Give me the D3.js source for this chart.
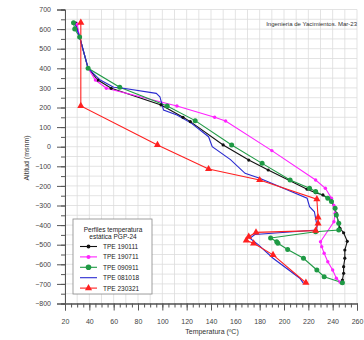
<!DOCTYPE html>
<html>
<head>
<meta charset="utf-8">
<script src="https://cdn.jsdelivr.net/npm/d3@7"></script>
<style>
  body { margin: 0; background: #fff; }
  text { font-family: "Liberation Sans", Arial, sans-serif; }
</style>
</head>
<body>
<div id="chart"></div>
<script>
// [temperature degC, altitude msnm]
const tpe190111 = [[29, 630], [32, 560], [39, 400], [47, 340], [58, 298], [99, 213], [117, 150], [123, 128],
  [150, 9], [171, -68], [187, -119], [219, -217], [226, -235], [232, -246], [236, -263], [239, -276],
  [243, -340], [246, -416], [249, -439], [252, -483], [250, -527], [250, -569], [249, -612], [249, -646],
  [248, -680], [247, -694]];
const tpe190711 = [[30, 625], [32, 560], [39, 400], [45, 340], [54, 298], [112, 208], [143, 150], [152, 131],
  [190, -20], [226, -170], [234, -212], [239, -263], [241, -300], [242, -340], [241, -383],
  [230, -485], [231, -510], [233, -544], [236, -587], [240, -629], [243, -671], [246, -690]];
const tpe090911 = [[27, 632], [28, 600], [32, 560], [39, 400], [65, 303], [104, 208], [127, 133], [157, 9],
  [182, -85], [205, -170], [221, -212], [226, -228], [236, -263], [239, -280], [242, -314], [243, -348],
  [245, -391], [245, -425], [226, -434], [189, -466], [194, -485], [195, -493], [203, -524], [216, -569],
  [227, -629], [233, -663], [248, -694]];
const tpe081018 = [[28, 630], [32, 561], [39, 400], [49, 340], [60, 303], [68, 298], [95, 272], [98, 255],
  [99.5, 221], [101, 187], [112, 162], [124, 119], [138, 51], [141, 0], [156, -66], [168, -136], [180, -161],
  [219, -263], [221, -306], [225, -332], [227, -400], [227, -425], [176, -448], [172, -467], [179, -501],
  [191, -569], [213, -671], [216, -697]];
const tpe230321 = [[33, 633], [33, 208], [96, 9], [138, -114], [180, -170], [227, -268], [228, -361],
  [228, -391], [226, -428], [177, -437], [171, -459], [169, -478], [175, -493], [191, -552], [218, -694]];

const seriesNames = ['TPE 190111', 'TPE 190711', 'TPE 090911', 'TPE 081018', 'TPE 230321'];
const xTicks = d3.range(20, 261, 20);
const yTicks = d3.range(-800, 701, 100);

const series = [
  { name: seriesNames[0], data: tpe190111, color: '#111111', marker: 'circle', r: 1.6 },
  { name: seriesNames[1], data: tpe190711, color: '#ff22ff', marker: 'circle', r: 1.7 },
  { name: seriesNames[2], data: tpe090911, color: '#1f9a45', marker: 'circle', r: 2.5 },
  { name: seriesNames[3], data: tpe081018, color: '#2a2ad0', marker: 'none', r: 0 },
  { name: seriesNames[4], data: tpe230321, color: '#ff2020', marker: 'triangle', r: 0 }
];

const W = 364, H = 340;
const margin = { top: 9.5, right: 7, bottom: 36.5, left: 65 };
const width = W - margin.left - margin.right;
const height = H - margin.top - margin.bottom;

const svg = d3.select('#chart').append('svg').attr('width', W).attr('height', H);
const g = svg.append('g').attr('transform', `translate(${margin.left},${margin.top})`);

const x = d3.scaleLinear().domain([20, 260]).range([0, width]);
const y = d3.scaleLinear().domain([-800, 700]).range([height, 0]);

// grid
g.append('g').selectAll('line').data(d3.range(20, 261, 10)).join('line')
  .attr('x1', d => x(d)).attr('x2', d => x(d)).attr('y1', 0).attr('y2', height)
  .attr('stroke', '#dcdcdc').attr('stroke-width', 0.8);
g.append('g').selectAll('line').data(d3.range(-800, 701, 50)).join('line')
  .attr('y1', d => y(d)).attr('y2', d => y(d)).attr('x1', 0).attr('x2', width)
  .attr('stroke', '#dcdcdc').attr('stroke-width', 0.8);

// axes
const xMinor = g.append('g').attr('transform', `translate(0,${height})`)
  .call(d3.axisBottom(x).tickValues(d3.range(20, 261, 5)).tickSize(4).tickFormat(''));
const xAxis = g.append('g').attr('transform', `translate(0,${height})`)
  .call(d3.axisBottom(x).tickValues(xTicks).tickSize(7).tickPadding(9).tickFormat(d3.format('d')));
const yMinor = g.append('g')
  .call(d3.axisLeft(y).tickValues(d3.range(-800, 701, 50)).tickSize(4).tickFormat(''));
const yAxis = g.append('g')
  .call(d3.axisLeft(y).tickValues(yTicks).tickSize(8).tickPadding(6).tickFormat(d3.format('d')));
[xMinor, xAxis, yMinor, yAxis].forEach(a => {
  a.selectAll('.domain').attr('stroke', '#555').attr('stroke-width', 1);
  a.selectAll('line').attr('stroke', '#555');
  a.selectAll('text').attr('fill', '#444').style('font-size', '7px');
});

// lines
const line = d3.line().x(d => x(d[0])).y(d => y(d[1]));
series.forEach(s => {
  g.append('path').datum(s.data)
    .attr('fill', 'none').attr('stroke', s.color).attr('stroke-width', 1.1).attr('d', line);
});
const tri = d3.symbol().type(d3.symbolTriangle).size(22);
series.forEach(s => {
  if (s.marker === 'circle') {
    g.append('g').selectAll('circle').data(s.data).join('circle')
      .attr('cx', d => x(d[0])).attr('cy', d => y(d[1])).attr('r', s.r).attr('fill', s.color);
  } else if (s.marker === 'triangle') {
    g.append('g').selectAll('path').data(s.data).join('path')
      .attr('transform', d => `translate(${x(d[0])},${y(d[1])})`).attr('d', tri).attr('fill', s.color);
  }
});

// axis titles
svg.append('text').attr('x', 212).attr('y', 334).attr('text-anchor', 'middle')
  .attr('fill', '#333').style('font-size', '7px').text('Temperatura (ºC)');
svg.append('text').attr('transform', 'translate(29,158) rotate(-90)').attr('text-anchor', 'middle')
  .attr('fill', '#333').style('font-size', '7px').text('Altitud (msnm)');
svg.append('text').attr('x', 357).attr('y', 26).attr('text-anchor', 'end')
  .attr('fill', '#333').style('font-size', '6px').text('Ingenieria de Yacimientos. Mar-23');

// legend
const lg = svg.append('g').attr('transform', 'translate(73,219)');
lg.append('rect').attr('width', 79).attr('height', 75).attr('fill', '#fff')
  .attr('stroke', '#888').attr('stroke-width', 0.8);
lg.append('text').attr('x', 40).attr('y', 12.5).attr('text-anchor', 'middle')
  .attr('fill', '#222').style('font-size', '6.5px').text('Perfiles temperatura');
lg.append('text').attr('x', 40).attr('y', 19.5).attr('text-anchor', 'middle')
  .attr('fill', '#222').style('font-size', '6.5px').text('estática PGP-24');
series.forEach((s, i) => {
  const ly = 27.5 + i * 10.4;
  const row = lg.append('g').attr('transform', `translate(0,${ly})`);
  row.append('line').attr('x1', 7).attr('x2', 24).attr('stroke', s.color).attr('stroke-width', 1.1);
  if (s.marker === 'circle') row.append('circle').attr('cx', 15.5).attr('r', s.r + 0.3).attr('fill', s.color);
  if (s.marker === 'triangle') row.append('path').attr('transform', 'translate(15.5,0)').attr('d', tri).attr('fill', s.color);
  row.append('text').attr('x', 30).attr('y', 2.4).attr('fill', '#222').style('font-size', '6.5px').text(s.name);
});
</script>
</body>
</html>
